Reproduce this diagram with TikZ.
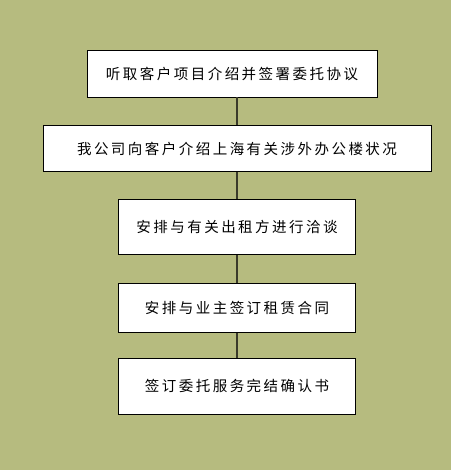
\documentclass[tikz,border=0pt]{standalone}
\usepackage{fontspec}
\newfontfamily\cjk[LetterSpace=17]{Noto Sans CJK SC}
\definecolor{bg}{HTML}{B6BB7F}
\definecolor{ln}{HTML}{3A3A2A}
\tikzset{
  stepbox/.style={draw=black, line width=0.9pt, fill=white, inner sep=0pt, font=\cjk\fontsize{14.5}{16}\selectfont},
  link/.style={draw=ln, line width=1.2pt}
}
\begin{document}
\begin{tikzpicture}[x=1pt,y=1pt]
\fill[bg] (0,0) rectangle (451,470);
\useasboundingbox (0,0) rectangle (451,470);
\node[stepbox, minimum width=290, minimum height=47] (a) at (232,396.5) {听取客户项目介绍并签署委托协议};
\node[stepbox, minimum width=388, minimum height=45.5] (b) at (237,321.5) {我公司向客户介绍上海有关涉外办公楼状况};
\node[stepbox, minimum width=237.5, minimum height=55.7] (c) at (237,243) {安排与有关出租方进行洽谈};
\node[stepbox, minimum width=237.5, minimum height=49.4] (d) at (237,162) {安排与业主签订租赁合同};
\node[stepbox, minimum width=237.5, minimum height=55.7] (e) at (237,83.8) {签订委托服务完结确认书};
\draw[link] (a.south -| b.north) -- (b.north);
\draw[link] (b.south) -- (c.north);
\draw[link] (c.south) -- (d.north);
\draw[link] (d.south) -- (e.north);
\end{tikzpicture}
\end{document}
